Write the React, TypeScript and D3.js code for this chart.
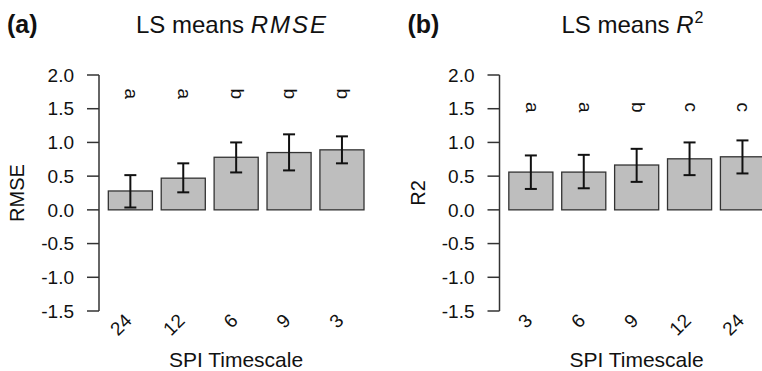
import { useEffect, useRef } from "react";
import * as d3 from "d3";

// panel (a): RMSE
const rmseTimescales = ["24", "12", "6", "9", "3"];
const rmseMeans = [0.28, 0.47, 0.78, 0.85, 0.89];
const rmseLower = [0.035, 0.26, 0.555, 0.585, 0.69];
const rmseUpper = [0.515, 0.69, 1.0, 1.12, 1.09];
const rmseGroups = ["a", "a", "b", "b", "b"];

// panel (b): R2
const r2Timescales = ["3", "6", "9", "12", "24"];
const r2Means = [0.56, 0.56, 0.665, 0.757, 0.787];
const r2Lower = [0.31, 0.32, 0.415, 0.515, 0.54];
const r2Upper = [0.807, 0.816, 0.905, 1.0, 1.03];
const r2Groups = ["a", "a", "b", "c", "c"];

const yTicks = [-1.5, -1, -0.5, 0, 0.5, 1, 1.5, 2];
const yTickLabels = ["-1.5", "-1.0", "-0.5", "0.0", "0.5", "1.0", "1.5", "2.0"];

type Panel = {
	tag: string;
	yLabel: string;
	labels: string[];
	means: number[];
	lower: number[];
	upper: number[];
	groups: string[];
	groupY: number;
	offset: number;
	title: "rmse" | "r2";
};

const FONT = "'Liberation Sans', Arial, sans-serif";

const App = () => {
	const svgRef = useRef<SVGSVGElement>(null);

	useEffect(() => {
		if (!svgRef.current) return;
		const svg = d3.select(svgRef.current);
		svg.selectAll("*").remove();

		const width = 762;
		const height = 371;
		svg.attr("width", width).attr("height", height).style("font-family", FONT);

		const y = d3.scaleLinear().domain([-1.5, 2]).range([311, 75]);

		const panels: Panel[] = [
			{
				tag: "(a)",
				yLabel: "RMSE",
				labels: rmseTimescales,
				means: rmseMeans,
				lower: rmseLower,
				upper: rmseUpper,
				groups: rmseGroups,
				groupY: 1.72,
				offset: 0,
				title: "rmse",
			},
			{
				tag: "(b)",
				yLabel: "R2",
				labels: r2Timescales,
				means: r2Means,
				lower: r2Lower,
				upper: r2Upper,
				groups: r2Groups,
				groupY: 1.52,
				offset: 400.5,
				title: "r2",
			},
		];

		panels.forEach((p) => {
			const g = svg.append("g").attr("transform", `translate(${p.offset},0)`);
			const axisX = 99;

			const x = d3
				.scaleBand<string>()
				.domain(p.labels)
				.range([axisX + 0.5, axisX + 0.5 + 52.9 * (5 + 1 / 6)])
				.padding(1 / 6);

			// panel tag + title
			g.append("text")
				.attr("x", 7)
				.attr("y", 33)
				.attr("font-size", 25)
				.attr("font-weight", "bold")
				.attr("fill", "#111")
				.text(p.tag);

			const title = g
				.append("text")
				.attr("x", 232)
				.attr("y", 33)
				.attr("text-anchor", "middle")
				.attr("font-size", 24)
				.attr("fill", "#111");
			title.append("tspan").text("LS means ");
			if (p.title === "rmse") {
				title.append("tspan").attr("font-style", "italic").attr("letter-spacing", 2).text("RMSE");
			} else {
				title.append("tspan").attr("font-style", "italic").text("R");
				title.append("tspan").attr("font-size", 16).attr("dy", -10).attr("dx", 1).text("2");
			}

			// y axis
			const yAxis = g.append("g").attr("stroke", "#333").attr("stroke-width", 1.5);
			yAxis
				.append("line")
				.attr("x1", axisX)
				.attr("x2", axisX)
				.attr("y1", y(-1.5))
				.attr("y2", y(2));
			yTicks.forEach((t, i) => {
				yAxis
					.append("line")
					.attr("x1", axisX - 12)
					.attr("x2", axisX)
					.attr("y1", y(t))
					.attr("y2", y(t));
				g.append("text")
					.attr("x", 74)
					.attr("y", y(t))
					.attr("dy", "0.35em")
					.attr("text-anchor", "end")
					.attr("font-size", 19)
					.attr("fill", "#111")
					.text(yTickLabels[i]);
			});

			g.append("text")
				.attr("transform", `translate(24,${(y(-1.5) + y(2)) / 2}) rotate(-90)`)
				.attr("text-anchor", "middle")
				.attr("font-size", 20)
				.attr("fill", "#111")
				.text(p.yLabel);

			// bars
			g.selectAll(".bar")
				.data(p.labels)
				.enter()
				.append("rect")
				.attr("x", (d) => x(d)!)
				.attr("width", x.bandwidth())
				.attr("y", (_d, i) => y(p.means[i]))
				.attr("height", (_d, i) => y(0) - y(p.means[i]))
				.attr("fill", "#bebebe")
				.attr("stroke", "#333")
				.attr("stroke-width", 1.3);

			// error bars
			const err = g.append("g").attr("stroke", "#111").attr("stroke-width", 2);
			p.labels.forEach((d, i) => {
				const cx = x(d)! + x.bandwidth() / 2;
				err.append("line").attr("x1", cx).attr("x2", cx).attr("y1", y(p.lower[i])).attr("y2", y(p.upper[i]));
				[p.lower[i], p.upper[i]].forEach((v) => {
					err.append("line").attr("x1", cx - 6).attr("x2", cx + 6).attr("y1", y(v)).attr("y2", y(v));
				});

				// group letters
				g.append("text")
					.attr("transform", `translate(${cx - 5},${y(p.groupY)}) rotate(90)`)
					.attr("text-anchor", "middle")
					.attr("font-size", 19)
					.attr("fill", "#111")
					.text(p.groups[i]);

				// rotated x labels
				g.append("text")
					.attr("transform", `translate(${cx - 2},317) rotate(-45)`)
					.attr("text-anchor", "end")
					.attr("dy", "0.35em")
					.attr("font-size", 19)
					.attr("fill", "#111")
					.text(d);
			});

			g.append("text")
				.attr("x", 236)
				.attr("y", 367)
				.attr("text-anchor", "middle")
				.attr("font-size", 21)
				.attr("fill", "#111")
				.text("SPI Timescale");
		});
	}, []);

	return (
		<svg
			ref={svgRef}
			style={{ position: "absolute", left: 0, top: 0, background: "#fff" }}
		></svg>
	);
};

export default App;
